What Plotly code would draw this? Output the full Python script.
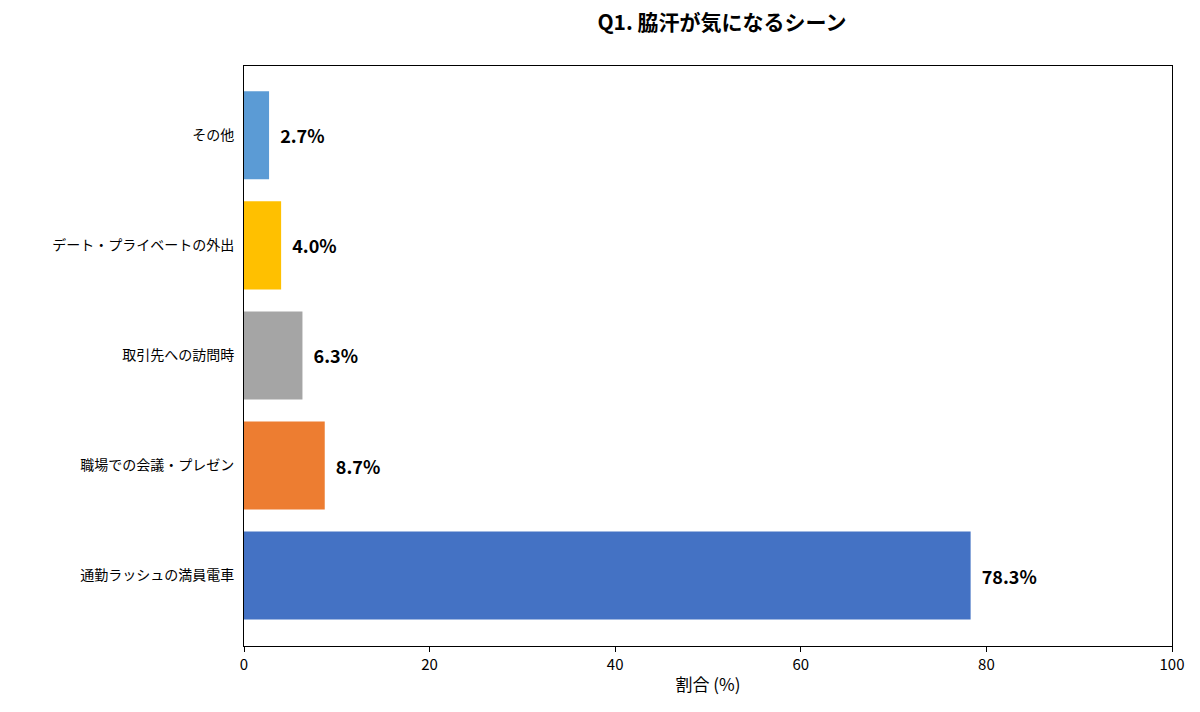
import plotly.graph_objects as go

categories = ["通勤ラッシュの満員電車", "職場での会議・プレゼン", "取引先への訪問時",
              "デート・プライベートの外出", "その他"]
values = [78.3, 8.7, 6.3, 4.0, 2.7]
colors = ["#4472C4", "#ED7D31", "#A5A5A5", "#FFC000", "#5B9BD5"]
labels = [f"  <b>{v:.1f}%</b>" for v in values]

font = "Noto Sans CJK JP"

fig = go.Figure(go.Bar(
    x=values, y=categories, orientation="h",
    marker=dict(color=colors, line=dict(width=0)),
    width=0.8,
    text=labels, textposition="outside",
    textfont=dict(size=18, color="black", family=font),
    cliponaxis=False,
))

fig.update_layout(
    width=1200, height=712,
    paper_bgcolor="white", plot_bgcolor="white",
    font=dict(family=font, size=14, color="black"),
    title=dict(text="<b>Q1. 脇汗が気になるシーン</b>", x=0.595, xanchor="center",
               y=0.99, yanchor="top", font=dict(size=21, family=font)),
    margin=dict(l=236, r=36, t=58, b=74),
    showlegend=False,
)
fig.update_xaxes(range=[0, 100], dtick=20, showgrid=False, zeroline=False,
                 showline=True, linecolor="black", linewidth=1, mirror=True,
                 ticks="outside", ticklen=5, tickcolor="black",
                 title=dict(text="割合 (%)", font=dict(size=17), standoff=6),
                 tickfont=dict(size=15))
fig.update_yaxes(range=[-0.64, 4.63], showgrid=False, zeroline=False,
                 showline=True, linecolor="black", linewidth=1, mirror=True,
                 ticks="outside", ticklen=6, tickcolor="white",
                 tickfont=dict(size=14))

fig.write_html("out.html")
